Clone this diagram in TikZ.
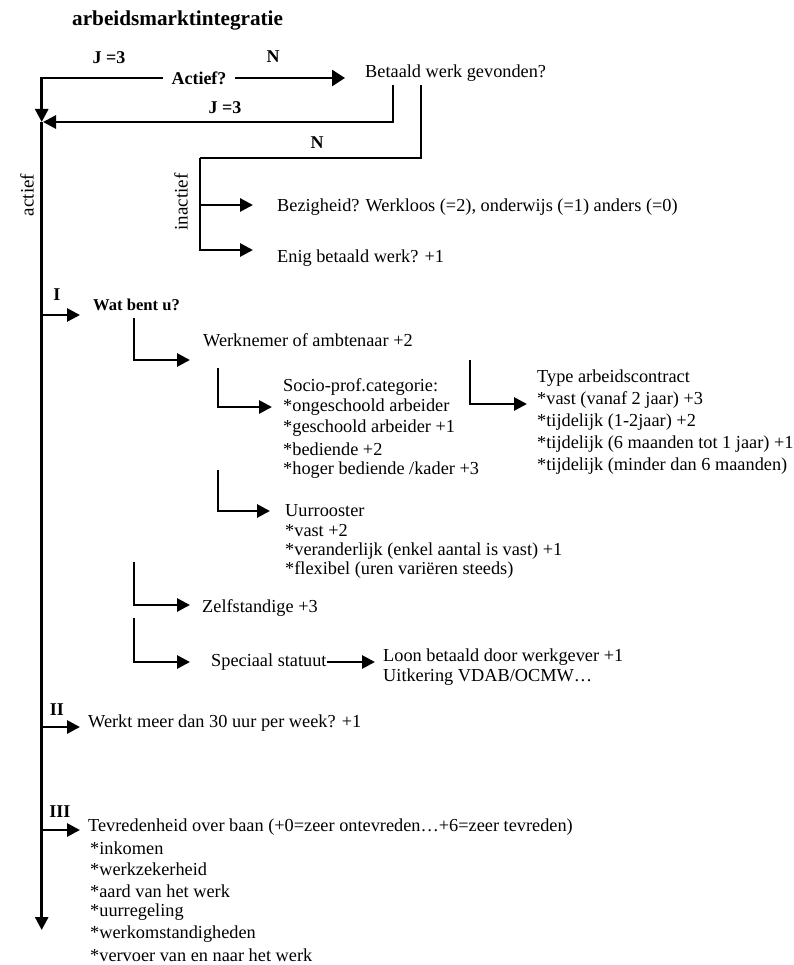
\documentclass[tikz,border=0pt]{standalone}
\usepackage{fontspec}
\setmainfont{Liberation Serif}
\usetikzlibrary{arrows.meta}
\begin{document}
\begin{tikzpicture}[x=1pt,y=-1pt,
  ln/.style={line width=2.8pt},
  arr/.style={line width=2.8pt,-{Triangle[length=13pt,width=13pt]}},
  txt/.style={inner sep=0pt,anchor=west,font=\fontsize{18.3}{21}\selectfont},
  bt/.style={inner sep=0pt,font=\bfseries\fontsize{18}{21}\selectfont},
  rot/.style={inner sep=0pt,rotate=90,font=\fontsize{19}{21}\selectfont},
]
\useasboundingbox (0,0) rectangle (793,965);

% title and top decision
\node[bt,anchor=west,font=\bfseries\fontsize{21.2}{24}\selectfont] (title) at (72,20) {arbeidsmarktintegratie};
\node[bt] (j1) at (109,58) {J =3};
\node[bt] (n1) at (273,57) {N};
\node[bt,inner xsep=8.5pt] (act) at (199,78) {Actief?};
\node[txt] (bet) at (365,73) {Betaald werk gevonden?};
\node[bt] (j2) at (225,108) {J =3};
\node[bt] (n2) at (317,143) {N};

\coordinate (L0) at (41.7,78);
\coordinate (L1) at (41.7,122);
\coordinate (Lend) at (41.7,930);
\coordinate (b1) at (393,85);
\coordinate (b2) at (421,85);

\draw[arr] (act.west) -- (L0) -- (L1);
\draw[arr,-{Triangle[length=13pt,width=16pt]},shorten >=20pt] (act.east) -- (act.east -| bet.west);
\draw[arr] (b1) -- (b1 |- L1) -- (43,122);
\draw[arr] (L1) -- (Lend);

\node[rot] (actief) at (27,195) {actief};

% inactief branch
\node[rot] (inact) at (181,202) {inactief};
\coordinate (i0) at (200,158);
\draw[ln] (b2) -- (b2 |- i0) -- (i0);
\draw[arr] (i0) -- (200,250) -- (253,250);
\draw[arr] (200,205) -- (253,205);
\node[txt] (bez) at (277,207) {Bezigheid? Werkloos (=2), onderwijs (=1) anders (=0)};
\node[txt] (enig) at (277,258) {Enig betaald werk? +1};

% I
\node[bt] (I) at (57,295) {I};
\draw[arr] (41.7,315) -- (80,315);
\node[bt,anchor=west,font=\bfseries\fontsize{16.6}{20}\selectfont] (wat) at (93,305) {Wat bent u?};

\draw[arr] (134,318) -- (134,360) -- (190,360);
\node[txt] (wer) at (203,340) {Werknemer of ambtenaar +2};

\draw[arr] (218,368) -- (218,407) -- (272,407);
\node[txt] (s0) at (283,387) {Socio-prof.categorie:};
\node[txt] (s1) at (283,407) {*ongeschoold arbeider};
\node[txt] (s2) at (283,428) {*geschoold arbeider +1};
\node[txt] (s3) at (283,449) {*bediende +2};
\node[txt] (s4) at (283,470) {*hoger bediende /kader +3};

\draw[arr] (470,360) -- (470,404) -- (527,404);
\node[txt] (t0) at (537,378) {Type arbeidscontract};
\node[txt] (t1) at (537,400) {*vast (vanaf 2 jaar) +3};
\node[txt] (t2) at (537,422) {*tijdelijk (1-2jaar) +2};
\node[txt] (t3) at (537,444) {*tijdelijk (6 maanden tot 1 jaar) +1};
\node[txt] (t4) at (537,466) {*tijdelijk (minder dan 6 maanden)};

\draw[arr] (218,470) -- (218,511) -- (270,511);
\node[txt] (u0) at (285,511) {Uurrooster};
\node[txt] (u1) at (285,531) {*vast +2};
\node[txt] (u2) at (285,551) {*veranderlijk (enkel aantal is vast) +1};
\node[txt] (u3) at (285,570) {*flexibel (uren variëren steeds)};

\draw[arr] (134,562) -- (134,605) -- (190,605);
\node[txt] (zelf) at (202,608) {Zelfstandige +3};

\draw[arr] (134,618) -- (134,662) -- (190,662);
\node[txt] (spec) at (211,662) {Speciaal statuut};
\draw[arr] (spec.east) -- (375,662);
\node[txt] (loon) at (383,657) {Loon betaald door werkgever +1};
\node[txt] (uitk) at (383,677) {Uitkering VDAB/OCMW…};

% II
\node[bt] (II) at (57,710) {II};
\draw[arr] (41.7,727) -- (80,727);
\node[txt] (werkt) at (88,723) {Werkt meer dan 30 uur per week? +1};

% III
\node[bt] (III) at (60,812) {III};
\draw[arr] (41.7,830) -- (80,830);
\node[txt] (tev) at (88,827) {Tevredenheid over baan (+0=zeer ontevreden…+6=zeer tevreden)};
\node[txt] (v1) at (90,848) {*inkomen};
\node[txt] (v2) at (90,869) {*werkzekerheid};
\node[txt] (v3) at (90,891) {*aard van het werk};
\node[txt] (v4) at (90,912) {*uurregeling};
\node[txt] (v5) at (90,934) {*werkomstandigheden};
\node[txt] (v6) at (90,955) {*vervoer van en naar het werk};
\end{tikzpicture}
\end{document}
